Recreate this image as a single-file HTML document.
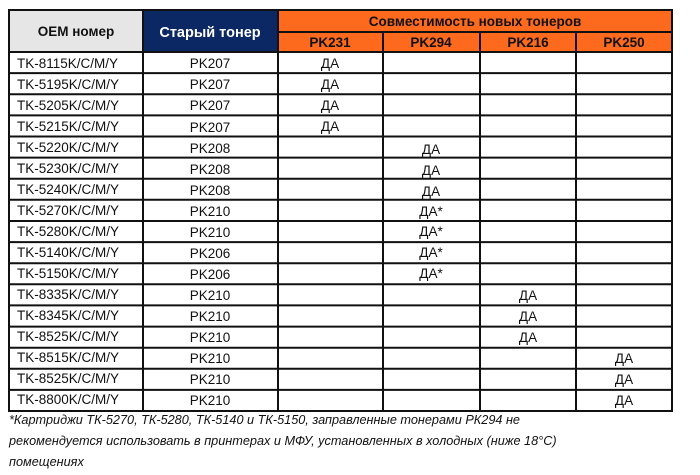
<!DOCTYPE html>
<html><head><meta charset="utf-8"><style>
html,body{margin:0;padding:0;background:#fff;width:700px;height:475px;overflow:hidden}
svg text{font-family:"Liberation Sans","DejaVu Sans",sans-serif;font-size:13.5px;fill:#111}
.b{font-weight:bold}
.fn{position:absolute;left:9px;top:410px;font-family:"Liberation Sans","DejaVu Sans",sans-serif;font-style:italic;font-size:12.7px;line-height:21px;color:#111;white-space:nowrap}
</style></head><body>
<svg width="700" height="475" style="position:absolute;left:0;top:0">
<rect x="9" y="10" width="134" height="42" fill="#e6e6e6"/>
<rect x="143" y="10" width="135" height="42" fill="#0b2865"/>
<rect x="278" y="10" width="394" height="42" fill="#fd6a1e"/>
<g stroke="#111" stroke-width="2" fill="none">
<rect x="9" y="10" width="663" height="401"/>
<line x1="278" y1="32" x2="672" y2="32"/>
<line x1="143" y1="10" x2="143" y2="411"/>
<line x1="278" y1="10" x2="278" y2="411"/>
<line x1="383" y1="32" x2="383" y2="411"/>
<line x1="480" y1="32" x2="480" y2="411"/>
<line x1="576" y1="32" x2="576" y2="411"/>
<line x1="9" y1="52" x2="672" y2="52"/>
<line x1="9" y1="73.1" x2="672" y2="73.1"/>
<line x1="9" y1="94.2" x2="672" y2="94.2"/>
<line x1="9" y1="115.4" x2="672" y2="115.4"/>
<line x1="9" y1="136.5" x2="672" y2="136.5"/>
<line x1="9" y1="157.6" x2="672" y2="157.6"/>
<line x1="9" y1="178.7" x2="672" y2="178.7"/>
<line x1="9" y1="199.8" x2="672" y2="199.8"/>
<line x1="9" y1="221" x2="672" y2="221"/>
<line x1="9" y1="242.1" x2="672" y2="242.1"/>
<line x1="9" y1="263.2" x2="672" y2="263.2"/>
<line x1="9" y1="284.3" x2="672" y2="284.3"/>
<line x1="9" y1="305.4" x2="672" y2="305.4"/>
<line x1="9" y1="326.6" x2="672" y2="326.6"/>
<line x1="9" y1="347.7" x2="672" y2="347.7"/>
<line x1="9" y1="368.8" x2="672" y2="368.8"/>
<line x1="9" y1="389.9" x2="672" y2="389.9"/>
</g>
<text class="b" x="76" y="36" text-anchor="middle">OEM номер</text>
<text class="b" x="210" y="37" text-anchor="middle" style="fill:#fff;font-size:14.5px">Старый тонер</text>
<text class="b" x="475" y="26" text-anchor="middle">Совместимость новых тонеров</text>
<text class="b" x="330" y="47" text-anchor="middle">PK231</text>
<text class="b" x="431" y="47" text-anchor="middle">PK294</text>
<text class="b" x="528" y="47" text-anchor="middle">PK216</text>
<text class="b" x="624" y="47" text-anchor="middle">PK250</text>
<g>
<text x="17" y="68">TK-8115K/C/M/Y</text><text x="210" y="68" text-anchor="middle">PK207</text><text x="330" y="68" text-anchor="middle">ДА</text>
<text x="17" y="89">TK-5195K/C/M/Y</text><text x="210" y="89" text-anchor="middle">PK207</text><text x="330" y="89" text-anchor="middle">ДА</text>
<text x="17" y="110">TK-5205K/C/M/Y</text><text x="210" y="110" text-anchor="middle">PK207</text><text x="330" y="110" text-anchor="middle">ДА</text>
<text x="17" y="131">TK-5215K/C/M/Y</text><text x="210" y="132" text-anchor="middle">PK207</text><text x="330" y="131" text-anchor="middle">ДА</text>
<text x="17" y="152">TK-5220K/C/M/Y</text><text x="210" y="153" text-anchor="middle">PK208</text><text x="431" y="154" text-anchor="middle">ДА</text>
<text x="17" y="173">TK-5230K/C/M/Y</text><text x="210" y="174" text-anchor="middle">PK208</text><text x="431" y="175" text-anchor="middle">ДА</text>
<text x="17" y="194">TK-5240K/C/M/Y</text><text x="210" y="195" text-anchor="middle">PK208</text><text x="431" y="196" text-anchor="middle">ДА</text>
<text x="17" y="215">TK-5270K/C/M/Y</text><text x="210" y="216" text-anchor="middle">PK210</text><text x="431" y="216" text-anchor="middle">ДА*</text>
<text x="17" y="236">TK-5280K/C/M/Y</text><text x="210" y="237" text-anchor="middle">PK210</text><text x="431" y="236" text-anchor="middle">ДА*</text>
<text x="17" y="257">TK-5140K/C/M/Y</text><text x="210" y="258" text-anchor="middle">PK206</text><text x="431" y="257" text-anchor="middle">ДА*</text>
<text x="17" y="278">TK-5150K/C/M/Y</text><text x="210" y="279" text-anchor="middle">PK206</text><text x="431" y="278" text-anchor="middle">ДА*</text>
<text x="17" y="299">TK-8335K/C/M/Y</text><text x="210" y="300" text-anchor="middle">PK210</text><text x="528" y="300" text-anchor="middle">ДА</text>
<text x="17" y="320">TK-8345K/C/M/Y</text><text x="210" y="321" text-anchor="middle">PK210</text><text x="528" y="321" text-anchor="middle">ДА</text>
<text x="17" y="341">TK-8525K/C/M/Y</text><text x="210" y="342" text-anchor="middle">PK210</text><text x="528" y="342" text-anchor="middle">ДА</text>
<text x="17" y="362">TK-8515K/C/M/Y</text><text x="210" y="363" text-anchor="middle">PK210</text><text x="624" y="363" text-anchor="middle">ДА</text>
<text x="17" y="383">TK-8525K/C/M/Y</text><text x="210" y="384" text-anchor="middle">PK210</text><text x="624" y="384" text-anchor="middle">ДА</text>
<text x="17" y="404">TK-8800K/C/M/Y</text><text x="210" y="405" text-anchor="middle">PK210</text><text x="624" y="405" text-anchor="middle">ДА</text>
</g>
</svg>
<div class="fn">*Картриджи ТК-5270, ТК-5280, ТК-5140 и ТК-5150, заправленные тонерами РК294 не<br>рекомендуется использовать в принтерах и МФУ, установленных в холодных (ниже 18°С)<br>помещениях</div>
</body></html>
